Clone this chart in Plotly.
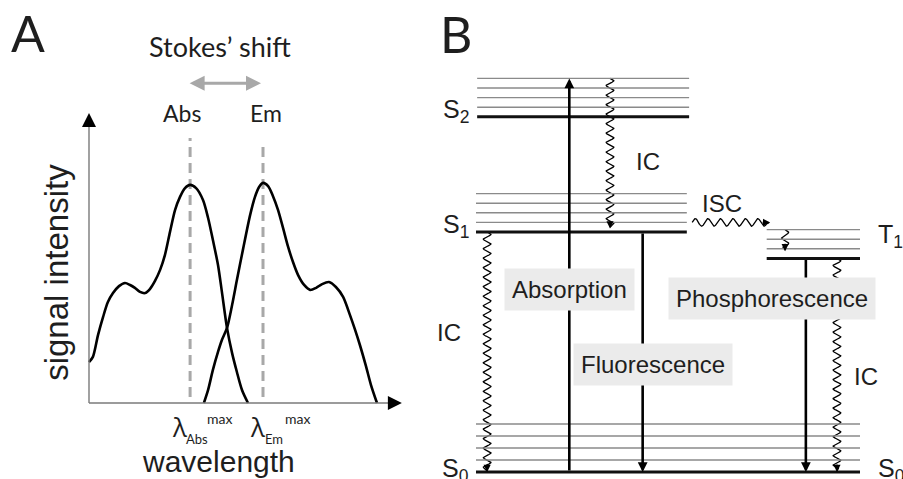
import numpy as np
import plotly.graph_objects as go

# ---------------- Panel A: spectra (wavelength, intensity in arbitrary units) ----------------
abs_wavelength = [0, 1.3, 3.0, 4.7, 6.3, 8.0, 10.0, 12.0, 13.7, 15.3, 17.0, 18.7, 20.3, 22.0, 23.7, 25.3,
                  27.0, 28.7, 30.3, 32.0, 33.7, 35.7, 38.0, 39.7, 41.3, 43.0, 44.3, 46.0, 47.7, 49.3, 51.0, 53.0]
abs_intensity = [14.1, 15.9, 23.4, 29.7, 34.8, 37.9, 40.3, 41.4, 40.7, 39.7, 38.3, 37.9, 39.3, 42.1, 45.9, 51.0,
                 59.0, 66.6, 71.0, 74.1, 75.2, 74.1, 70.0, 63.8, 56.2, 47.6, 38.3, 25.9, 17.2, 10.7, 4.5, 0.0]
em_wavelength = [38.3, 39.7, 41.3, 43.0, 44.3, 46.0, 47.7, 49.3, 51.3, 53.7, 55.3, 56.7, 58.0, 59.7, 61.3, 63.0,
                 64.7, 66.3, 68.0, 69.7, 71.7, 73.7, 75.7, 77.7, 80.0, 82.3, 84.7, 87.0, 88.7, 90.3, 92.3, 94.0, 96.0]
em_intensity = [0.0, 4.5, 11.4, 17.6, 21.7, 25.9, 33.8, 42.4, 52.8, 64.8, 71.0, 74.5, 75.9, 74.8, 71.4, 66.6,
                60.3, 54.1, 48.6, 44.1, 40.7, 39.0, 39.7, 41.0, 41.7, 40.0, 36.6, 30.3, 25.2, 20.0, 12.8, 6.2, 0.0]
abs_max_wl = 33.7
em_max_wl = 58.0
x_axis_end = 104.3
y_axis_end = 100.0

# ---------------- Panel B: Jablonski diagram (energies in arbitrary units) ----------------
S0 = 0.0
S1 = 10.0
S2 = 14.8
T1 = 8.9
S0_vib = [0.5, 1.0, 1.5, 2.0]
S1_vib = [10.4, 10.8, 11.2, 11.6]
S2_vib = [15.2, 15.6, 16.0, 16.4]
T1_vib = [9.3, 9.7, 10.1]
# horizontal extents of the manifolds (diagram position units 0..100)
S0_span = [0.0, 100.0]
S1_span = [0.0, 54.9]
S2_span = [0.3, 55.5]
T1_span = [75.7, 100.0]
# positions of the transitions
x_ic_s1 = 2.9
x_absorption = 24.3
x_ic_s2 = 34.9
x_fluorescence = 43.4
x_isc = [56.3, 76.6]
x_ic_t1 = 80.5
x_phosphorescence = 85.9
x_ic_t1_s0 = 94.0

# ---------------- layout mapping (pixels) ----------------
W, H = 903, 479
A_ORIGIN = (89, 403)
A_PX_X, A_PX_Y = 3.0, 2.9
B_ORIGIN = (476, 472)
B_PX_X, B_PX_Y = 3.84, 24.0

ARIAL = "Liberation Sans, Arial, sans-serif"
CALIBRI = "Lato, Open Sans, sans-serif"
TXT = "#1e1e1e"
GREY = "#a8a8a8"
THIN = "#8a8a8a"


def wavy(x0, y0, x1, y1, amp_px, period_px, sx, sy, tail_px=4):
    X0, Y0, X1, Y1 = x0 * sx, y0 * sy, x1 * sx, y1 * sy
    L = np.hypot(X1 - X0, Y1 - Y0)
    ux, uy = (X1 - X0) / L, (Y1 - Y0) / L
    t = np.linspace(0, L - tail_px, int(L * 3))
    off = amp_px * np.sin(2 * np.pi * t / period_px)
    X = np.append(X0 + ux * t - uy * off, X1 - ux * 1)
    Y = np.append(Y0 + uy * t + ux * off, Y1 - uy * 1)
    return X / sx, Y / sy


fig = go.Figure()

# spectra
for xs, ys in [(abs_wavelength, abs_intensity), (em_wavelength, em_intensity)]:
    fig.add_trace(go.Scatter(x=xs, y=ys, mode="lines", xaxis="x", yaxis="y",
                             line=dict(color="black", width=2.6, shape="spline", smoothing=0.8),
                             hoverinfo="skip", showlegend=False))

shapes = []
annotations = []

# axis lines panel A
shapes.append(dict(type="line", xref="x", yref="y", x0=0, y0=0, x1=0, y1=y_axis_end - 4,
                   line=dict(color="#7a7a7a", width=1.4)))
shapes.append(dict(type="line", xref="x", yref="y", x0=0, y0=0, x1=x_axis_end - 4, y1=0,
                   line=dict(color="#7a7a7a", width=1.6)))
annotations.append(dict(xref="x", yref="y", x=0, y=y_axis_end, ax=0, ay=12, text="",
                        showarrow=True, arrowhead=2, arrowsize=2.8, arrowwidth=1, arrowcolor="black"))
annotations.append(dict(xref="x", yref="y", x=x_axis_end, y=0, ax=-12, ay=0, text="",
                        showarrow=True, arrowhead=2, arrowsize=2.8, arrowwidth=1, arrowcolor="black"))

# dashed peak lines
for wl, top in [(abs_max_wl, 91.4), (em_max_wl, 89.7)]:
    shapes.append(dict(type="line", xref="x", yref="y", x0=wl, x1=wl, y0=2.1, y1=top, layer="below",
                       line=dict(color=GREY, width=3, dash="10px,6px")))

# Stokes shift arrow
annotations.append(dict(xref="x", yref="y", axref="x", ayref="y", x=em_max_wl, y=110.3,
                        ax=abs_max_wl, ay=110.3, text="", showarrow=True, arrowside="end+start",
                        arrowhead=2, startarrowhead=2, arrowsize=1.0, startarrowsize=1.0,
                        arrowwidth=3, arrowcolor=GREY, xshift=-2))
annotations.append(dict(xref="x", yref="y", x=(abs_max_wl + em_max_wl) / 2, y=122.8, xshift=-7,
                        text="Stokes’ shift", showarrow=False, font=dict(family=CALIBRI, size=27, color=TXT)))
annotations.append(dict(xref="x", yref="y", x=abs_max_wl, y=100, xshift=-8, text="Abs", showarrow=False,
                        font=dict(family=CALIBRI, size=23, color=TXT)))
annotations.append(dict(xref="x", yref="y", x=em_max_wl, y=100, xshift=3, text="Em", showarrow=False,
                        font=dict(family=CALIBRI, size=23, color=TXT)))
for wl, sub, sxs in [(abs_max_wl, "Abs", (-10.5, -6, 15)), (em_max_wl, "Em", (-5.5, 0, 20))]:
    annotations.append(dict(xref="x", yref="y", x=wl, y=-8.4, xshift=sxs[0], text="λ", showarrow=False,
                            font=dict(family="Open Sans, sans-serif", size=26, color=TXT)))
    annotations.append(dict(xref="x", yref="y", x=wl, y=-12.4, xshift=sxs[1], xanchor="left", text=sub,
                            showarrow=False, font=dict(family=CALIBRI, size=13, color=TXT)))
    annotations.append(dict(xref="x", yref="y", x=wl, y=-5.2, xshift=sxs[2], xanchor="left", text="max",
                            showarrow=False, font=dict(family=CALIBRI, size=14, color=TXT)))
annotations.append(dict(xref="x", yref="y", x=43, y=-20.3, text="wavelength", showarrow=False,
                        font=dict(family=ARIAL, size=30, color=TXT)))
annotations.append(dict(xref="x", yref="y", x=-10.7, y=45.2, text="signal intensity", textangle=-90,
                        showarrow=False, font=dict(family=ARIAL, size=33, color=TXT)))

# panel letters
annotations.append(dict(xref="paper", yref="paper", x=28 / W, y=1 - 33 / H, xanchor="center", yanchor="middle",
                        text="A", showarrow=False, font=dict(family=CALIBRI, size=50, color=TXT)))
annotations.append(dict(xref="paper", yref="paper", x=456 / W, y=1 - 34 / H, xanchor="center", yanchor="middle",
                        text="B", showarrow=False, font=dict(family=CALIBRI, size=50, color=TXT)))

# ---------------- Panel B ----------------
def level(span, e, thick):
    shapes.append(dict(type="line", xref="x2", yref="y2", x0=span[0], x1=span[1], y0=e, y1=e,
                       line=dict(color="#111111" if thick else THIN, width=3 if thick else 1.4)))

for span, base, vibs in [(S0_span, S0, S0_vib), (S1_span, S1, S1_vib), (S2_span, S2, S2_vib),
                         (T1_span, T1, T1_vib)]:
    for v in vibs:
        level(span, v, False)
    level(span, base, True)

# wavy (non-radiative) transitions
wave_specs = [
    (x_ic_s1, S1, x_ic_s1, S0, 3.8, 9.5),
    (x_ic_s2, S2_vib[-1], x_ic_s2, S1 + 0.15, 3.8, 9.5),
    (x_isc[0], 10.4, x_isc[1], 10.4, 3.8, 12.5),
    (x_ic_t1, T1_vib[-1], x_ic_t1, T1 + 0.3, 3.5, 11),
    (x_ic_t1_s0, T1, x_ic_t1_s0, S0, 3.8, 9.5),
]
for x0, y0, x1, y1, amp, per in wave_specs:
    wx, wy = wavy(x0, y0, x1, y1, amp, per, B_PX_X, B_PX_Y)
    fig.add_trace(go.Scatter(x=wx, y=wy, mode="lines", xaxis="x2", yaxis="y2",
                             line=dict(color="black", width=1.3), hoverinfo="skip", showlegend=False))
    horiz = abs(y1 - y0) < 1e-9
    annotations.append(dict(xref="x2", yref="y2", x=x1, y=y1, ax=-9 if horiz else 0, ay=0 if horiz else -9,
                            text="", showarrow=True, arrowhead=2, arrowsize=1.1, arrowwidth=1.3,
                            arrowcolor="black"))

# radiative transitions
for xp, e_from, e_to in [(x_absorption, S0, S2_vib[-1]), (x_fluorescence, S1, S0),
                         (x_phosphorescence, T1, S0)]:
    annotations.append(dict(xref="x2", yref="y2", axref="x2", ayref="y2", x=xp, y=e_to, ax=xp, ay=e_from,
                            text="", showarrow=True, arrowhead=2, arrowsize=0.75, arrowwidth=2.6,
                            arrowcolor="black"))

# boxed labels
for txt, xp, e in [("Absorption", x_absorption, 7.6), ("Fluorescence", 46.0, 4.46),
                   ("Phosphorescence", 77.2, 7.23)]:
    annotations.append(dict(xref="x2", yref="y2", x=xp, y=e, text=txt, showarrow=False,
                            bgcolor="#ebebeb", borderpad=7, font=dict(family=ARIAL, size=24, color=TXT)))

for txt, xp, e in [("IC", -7.0, 5.83), ("IC", 44.8, 12.92), ("ISC", 64.1, 11.17), ("IC", 101.6, 4.0)]:
    annotations.append(dict(xref="x2", yref="y2", x=xp, y=e, text=txt, showarrow=False,
                            font=dict(family=ARIAL, size=24, color=TXT)))

for txt, xp, e, anc in [("S<sub>2</sub>", -1.2, 15.05, "right"), ("S<sub>1</sub>", -1.2, 10.25, "right"),
                        ("S<sub>0</sub>", -1.2, 0.07, "right"), ("S<sub>0</sub>", 104.2, 0.07, "left"),
                        ("T<sub>1</sub>", 104.2, 9.85, "left")]:
    annotations.append(dict(xref="x2", yref="y2", x=xp, y=e, text=txt, xanchor=anc, yanchor="middle",
                            showarrow=False, font=dict(family=ARIAL, size=25, color=TXT)))

ax_common = dict(visible=False, showgrid=False, zeroline=False, domain=[0, 1], fixedrange=True)
fig.update_layout(
    width=W, height=H, margin=dict(l=0, r=0, t=0, b=0),
    paper_bgcolor="white", plot_bgcolor="rgba(0,0,0,0)", showlegend=False,
    xaxis=dict(range=[(0 - A_ORIGIN[0]) / A_PX_X, (W - A_ORIGIN[0]) / A_PX_X], anchor="y", **ax_common),
    yaxis=dict(range=[(A_ORIGIN[1] - H) / A_PX_Y, A_ORIGIN[1] / A_PX_Y], anchor="x", **ax_common),
    xaxis2=dict(range=[(0 - B_ORIGIN[0]) / B_PX_X, (W - B_ORIGIN[0]) / B_PX_X], anchor="y2", **ax_common),
    yaxis2=dict(range=[(B_ORIGIN[1] - H) / B_PX_Y, B_ORIGIN[1] / B_PX_Y], anchor="x2", **ax_common),
    shapes=shapes, annotations=annotations,
)

fig.write_html("out.html")
